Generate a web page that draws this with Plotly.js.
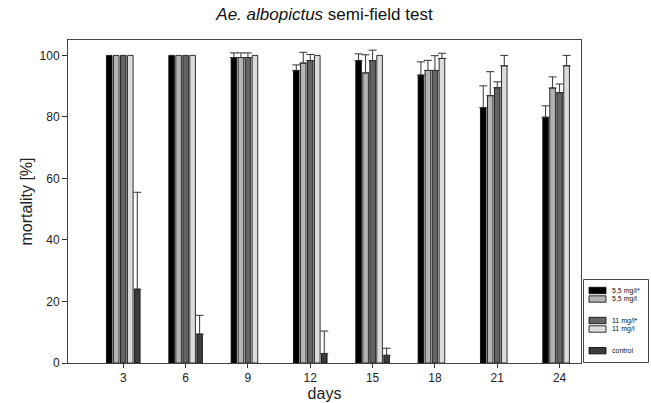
<!DOCTYPE html>
<html>
<head>
<meta charset="utf-8">
<script src="https://cdn.plot.ly/plotly-3.0.1.min.js"></script>
<style>html,body{margin:0;padding:0;background:#fff;}#chart{width:651px;height:403px;}</style>
</head>
<body>
<div id="chart"></div>
<script>
// ---- data ----
var days = [3, 6, 9, 12, 15, 18, 21, 24];
var seriesNames = ['5,5 mg/l*', '5,5 mg/l', '11 mg/l*', '11 mg/l', 'control'];
var mort55star = [100, 100, 99.3, 95.1, 98.3, 93.6, 83.0, 79.9];
var err55star  = [null, null, 1.5, 1.8, 2.2, 4.3, 7.1, 3.7];
var mort55     = [100, 100, 99.3, 97.5, 94.3, 95.1, 86.9, 89.4];
var err55      = [null, null, 1.5, 3.5, 5.9, 3.3, 7.8, 3.6];
var mort11star = [100, 100, 99.3, 98.3, 98.3, 95.1, 89.5, 87.9];
var err11star  = [null, null, 1.5, 2.0, 3.4, 4.8, 1.9, 2.8];
var mort11     = [100, 100, 100, 100, 100, 99.0, 96.6, 96.6];
var err11      = [null, null, null, null, null, 1.7, 3.4, 3.4];
var mortCtrl   = [24.0, 9.4, null, 3.1, 2.5, null, null, null];
var errCtrl    = [31.5, 6.1, null, 7.3, 2.3, null, null, null];
var tickLabels = ['3', '6', '9', '12', '15', '18', '21', '24'];

var colors = ['#000000', '#b4b4b4', '#646464', '#dcdcdc', '#3c3c3c'];
var values = [mort55star, mort55, mort11star, mort11, mortCtrl];
var errors = [err55star, err55, err11star, err11, errCtrl];

function toErr(a) { return a.map(function (v) { return v === null ? NaN : v; }); }

var traces = values.map(function (vals, i) {
  return {
    type: 'bar',
    x: days,
    y: vals,
    name: seriesNames[i],
    showlegend: false,
    marker: { color: colors[i], line: { color: '#000', width: 0.8 } },
    error_y: {
      type: 'data', symmetric: false,
      array: toErr(errors[i]), arrayminus: [],
      color: '#333', thickness: 1, width: 4
    },
    hoverinfo: 'x+y+name'
  };
});

// ---- custom legend (compact, like the reference) ----
var L = 68, R = 581, T = 40, B = 363;
function px2x(p) { return (p - L) / (R - L); }
function px2y(p) { return (B - p) / (B - T); }
var legendRows = [290.5, 299, 320.5, 329, 350.7];
var shapes = [{
  type: 'rect', xref: 'paper', yref: 'paper',
  x0: px2x(583.5), x1: px2x(648.5), y0: px2y(362.5), y1: px2y(279.5),
  line: { color: '#444', width: 1 }, fillcolor: 'rgba(0,0,0,0)'
}];
var annotations = [];
legendRows.forEach(function (py, i) {
  shapes.push({
    type: 'rect', xref: 'paper', yref: 'paper',
    x0: px2x(589), x1: px2x(606), y0: px2y(py + 3.2), y1: px2y(py - 3.2),
    line: { color: '#000', width: 0.8 }, fillcolor: colors[i]
  });
  annotations.push({
    xref: 'paper', yref: 'paper', x: px2x(610), y: px2y(py),
    xanchor: 'left', yanchor: 'middle', showarrow: false,
    text: seriesNames[i], font: { size: 7, color: '#111', family: 'Liberation Sans, Arial, sans-serif' }
  });
});

var layout = {
  width: 651, height: 403,
  margin: { l: L, r: 651 - R, t: T, b: 403 - B, pad: 0 },
  paper_bgcolor: '#fff', plot_bgcolor: '#fff',
  font: { family: 'Liberation Sans, Arial, sans-serif', color: '#222', size: 11 },
  title: {
    text: '<i>Ae. albopictus</i> semi-field test',
    font: { size: 17, color: '#111' },
    x: 0.5, xref: 'paper', y: 1 - 14 / 403, yref: 'container', yanchor: 'middle'
  },
  barmode: 'group', bargap: 0.438, bargroupgap: 0.2,
  xaxis: {
    range: [0.34, 25.03], tickmode: 'array', tickvals: days, ticktext: tickLabels,
    ticks: 'outside', ticklen: 4, tickcolor: '#333', showgrid: false, zeroline: false,
    showline: true, linecolor: '#444', linewidth: 1, mirror: true,
    tickfont: { size: 12 },
    title: { text: 'days', font: { size: 16 }, standoff: 2 }
  },
  yaxis: {
    range: [0, 105], tickvals: [0, 20, 40, 60, 80, 100],
    ticks: 'outside', ticklen: 5, tickcolor: '#333', showgrid: false, zeroline: false,
    showline: true, linecolor: '#444', linewidth: 1, mirror: true,
    tickfont: { size: 12 },
    title: { text: 'mortality [%]', font: { size: 16 }, standoff: 2 }
  },
  shapes: shapes,
  annotations: annotations
};

Plotly.newPlot('chart', traces, layout, { displayModeBar: false, staticPlot: true });
</script>
</body>
</html>
